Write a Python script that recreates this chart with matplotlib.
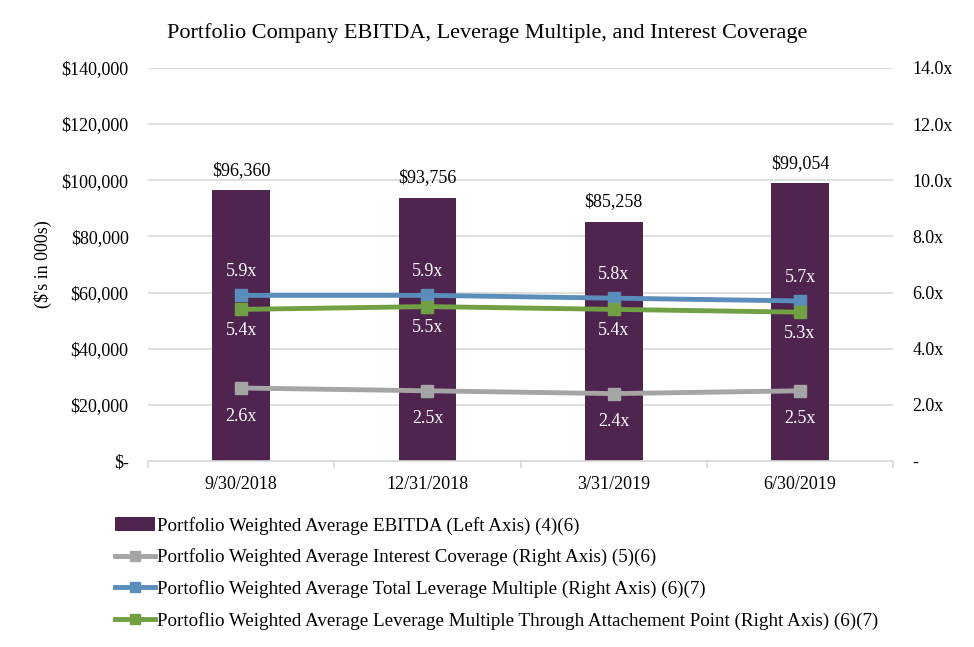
import numpy as np
import matplotlib.pyplot as plt
from matplotlib.ticker import FuncFormatter, FixedLocator

plt.rcParams['font.family'] = ['Liberation Serif', 'DejaVu Serif']

quarters = ["9/30/2018", "12/31/2018", "3/31/2019", "6/30/2019"]
ebitda = [96360, 93756, 85258, 99054]
interest_cov = [2.6, 2.5, 2.4, 2.5]
total_lev = [5.9, 5.9, 5.8, 5.7]
attach_lev = [5.4, 5.5, 5.4, 5.3]

c_bar = "#4f2550"
c_grey = "#a5a5a5"
c_blue = "#5b8dbb"
c_green = "#70a043"
grid_c = "#d9d9d9"

fig = plt.figure(figsize=(9.74, 6.47), dpi=100)
ax = fig.add_axes([0.152, 0.2875, 0.765, 0.6075])
ax2 = ax.twinx()

x = np.arange(len(quarters))
bars = ax.bar(x, ebitda, width=0.31, color=c_bar, zorder=2,
              label="Portfolio Weighted Average EBITDA (Left Axis) (4)(6)")
for xi, v in zip(x, ebitda):
    ax.text(xi, v + 4000, "${:,.0f}".format(v), ha='center', va='bottom', fontsize=13)

ax.set_ylim(0, 140000)
ax.set_xlim(-0.5, len(quarters) - 0.5)
ax.set_yticks(np.arange(0, 140001, 20000))
ax.yaxis.set_major_formatter(FuncFormatter(lambda v, p: "$-" if v == 0 else "${:,.0f}".format(v)))
ax.grid(axis='y', color=grid_c, linewidth=1.2, zorder=0)
ax.set_axisbelow(True)
ax.set_xticks(x)
ax.set_xticklabels(quarters, fontsize=13)
ax.xaxis.set_minor_locator(FixedLocator(np.arange(-0.5, len(quarters), 1.0)))
ax.tick_params(axis='x', which='major', length=0, pad=11)
ax.tick_params(axis='x', which='minor', length=5, color=grid_c, width=1.2)
ax.tick_params(axis='y', length=0, labelsize=13, pad=14)
ax.set_ylabel("($'s in 000s)", fontsize=13, labelpad=7)
for s in ['top', 'right', 'left']:
    ax.spines[s].set_visible(False)
    ax2.spines[s].set_visible(False)
ax.spines['bottom'].set_color(grid_c)
ax.spines['bottom'].set_linewidth(1.2)
ax2.spines['bottom'].set_visible(False)

l1, = ax2.plot(x, interest_cov, color=c_grey, lw=3.5, marker='s', ms=9, zorder=3,
               label="Portfolio Weighted Average Interest Coverage (Right Axis) (5)(6)")
l2, = ax2.plot(x, total_lev, color=c_blue, lw=3.5, marker='s', ms=9, zorder=3,
               label="Portoflio Weighted Average Total Leverage Multiple (Right Axis) (6)(7)")
l3, = ax2.plot(x, attach_lev, color=c_green, lw=3.5, marker='s', ms=9, zorder=3,
               label="Portoflio Weighted Average Leverage Multiple Through Attachement Point (Right Axis) (6)(7)")
for xi, v in zip(x, total_lev):
    ax2.text(xi, v + 0.55, "{:.1f}x".format(v), ha='center', va='bottom', color='white', fontsize=13)
for xi, v in zip(x, attach_lev):
    ax2.text(xi, v - 0.45, "{:.1f}x".format(v), ha='center', va='top', color='white', fontsize=13)
for xi, v in zip(x, interest_cov):
    ax2.text(xi, v - 0.7, "{:.1f}x".format(v), ha='center', va='top', color='white', fontsize=13)

ax2.set_ylim(0, 14)
ax2.set_yticks(np.arange(0, 14.1, 2))
ax2.yaxis.set_major_formatter(FuncFormatter(lambda v, p: "-" if v == 0 else "{:.1f}x".format(v)))
ax2.tick_params(axis='y', length=0, labelsize=13, pad=14)

fig.suptitle("Portfolio Company EBITDA, Leverage Multiple, and Interest Coverage",
             fontsize=16, y=0.965)

fig.legend(handles=[bars, l1, l2, l3], loc='upper left', bbox_to_anchor=(0.11, 0.213),
           frameon=False, fontsize=13.7, handlelength=2.1, handletextpad=0.1,
           labelspacing=0.72, borderaxespad=0, markerscale=0.85)

fig.savefig("out.png", dpi=100)
